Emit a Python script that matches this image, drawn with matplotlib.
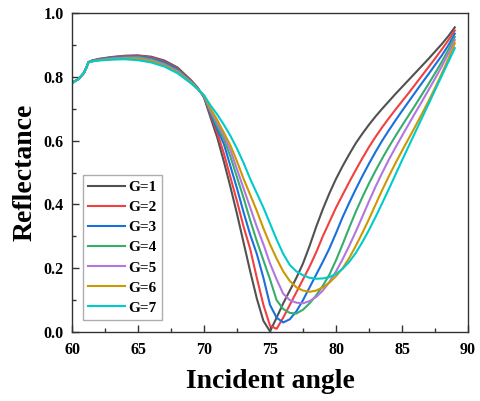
import matplotlib
matplotlib.use("Agg")
import matplotlib.pyplot as plt
from matplotlib.ticker import MultipleLocator, FormatStrFormatter

angle = [60, 60.5, 60.9, 61.1, 61.25, 61.5, 62, 63, 64, 65, 66, 67, 68, 69, 69.5,
         70, 70.5, 71, 71.5, 72, 72.5, 73, 73.5, 74, 74.5, 75, 75.5, 76, 76.5, 77, 77.5,
         78, 78.5, 79, 79.5, 80, 80.5, 81, 81.5, 82, 82.5, 83, 83.5, 84, 84.5, 85, 85.5,
         86, 86.5, 87, 87.5, 88, 88.5, 89]

left_common = [0.781, 0.793, 0.812, 0.830, 0.846]

g1 = left_common + [0.851, 0.856, 0.862, 0.866, 0.867, 0.863, 0.851, 0.829, 0.790, 0.767,
      0.735, 0.672, 0.610, 0.535, 0.455, 0.370, 0.280, 0.190, 0.105, 0.035, 0.002, 0.045, 0.090, 0.130, 0.170, 0.215,
      0.270, 0.330, 0.385, 0.435, 0.480, 0.520, 0.557, 0.592, 0.622, 0.650, 0.676, 0.700, 0.723, 0.746, 0.768, 0.790,
      0.812, 0.834, 0.856, 0.879, 0.902, 0.927, 0.955]
g2 = left_common + [0.850, 0.855, 0.861, 0.865, 0.866, 0.861, 0.848, 0.826, 0.788, 0.766,
      0.738, 0.680, 0.625, 0.560, 0.485, 0.410, 0.330, 0.260, 0.170, 0.085, 0.020, 0.010, 0.045, 0.085, 0.125, 0.165,
      0.205, 0.250, 0.300, 0.345, 0.390, 0.430, 0.470, 0.508, 0.545, 0.580, 0.612, 0.642, 0.670, 0.697, 0.723, 0.749,
      0.776, 0.803, 0.830, 0.857, 0.885, 0.914, 0.945]
g3 = left_common + [0.850, 0.854, 0.860, 0.863, 0.864, 0.858, 0.845, 0.823, 0.786, 0.765,
      0.738, 0.685, 0.635, 0.590, 0.520, 0.450, 0.375, 0.305, 0.245, 0.170, 0.085, 0.045, 0.030, 0.040, 0.065, 0.100,
      0.140, 0.180, 0.220, 0.262, 0.310, 0.360, 0.405, 0.448, 0.489, 0.528, 0.565, 0.600, 0.632, 0.663, 0.693, 0.722,
      0.751, 0.780, 0.808, 0.837, 0.866, 0.898, 0.935]
g4 = left_common + [0.849, 0.853, 0.858, 0.861, 0.862, 0.855, 0.841, 0.820, 0.785, 0.764,
      0.739, 0.690, 0.645, 0.605, 0.550, 0.485, 0.420, 0.350, 0.285, 0.225, 0.165, 0.100, 0.072, 0.060, 0.058, 0.070,
      0.090, 0.115, 0.145, 0.180, 0.225, 0.275, 0.327, 0.377, 0.423, 0.466, 0.506, 0.544, 0.580, 0.614, 0.647, 0.679,
      0.711, 0.744, 0.777, 0.811, 0.846, 0.884, 0.925]
g5 = left_common + [0.849, 0.852, 0.857, 0.859, 0.859, 0.852, 0.838, 0.817, 0.783, 0.763,
      0.740, 0.695, 0.655, 0.615, 0.570, 0.510, 0.450, 0.390, 0.330, 0.275, 0.215, 0.165, 0.120, 0.100, 0.092, 0.090,
      0.097, 0.110, 0.130, 0.157, 0.190, 0.228, 0.270, 0.315, 0.362, 0.410, 0.456, 0.499, 0.540, 0.578, 0.615, 0.651,
      0.687, 0.722, 0.758, 0.794, 0.832, 0.872, 0.915]
g6 = left_common + [0.848, 0.852, 0.855, 0.857, 0.856, 0.849, 0.835, 0.814, 0.782, 0.763,
      0.741, 0.700, 0.665, 0.625, 0.585, 0.535, 0.480, 0.430, 0.380, 0.325, 0.275, 0.230, 0.190, 0.160, 0.140, 0.130,
      0.126, 0.130, 0.140, 0.155, 0.175, 0.200, 0.232, 0.270, 0.311, 0.354, 0.400, 0.445, 0.488, 0.529, 0.568, 0.606,
      0.644, 0.683, 0.723, 0.765, 0.809, 0.855, 0.905]
g7 = left_common + [0.848, 0.851, 0.854, 0.855, 0.852, 0.845, 0.832, 0.811, 0.780, 0.762,
      0.742, 0.710, 0.682, 0.650, 0.615, 0.575, 0.530, 0.480, 0.435, 0.390, 0.340, 0.290, 0.245, 0.210, 0.190, 0.178,
      0.170, 0.167, 0.168, 0.172, 0.182, 0.198, 0.220, 0.248, 0.282, 0.320, 0.361, 0.404, 0.448, 0.493, 0.538, 0.582,
      0.626, 0.670, 0.714, 0.758, 0.802, 0.846, 0.890]

labels = ["G=1", "G=2", "G=3", "G=4", "G=5", "G=6", "G=7"]
colors = ["#515151", "#F14040", "#1A6FDF", "#37AD6B", "#B177DE", "#CC9900", "#00CBCC"]
series = [g1, g2, g3, g4, g5, g6, g7]

plt.rcParams['font.family'] = ['Liberation Serif', 'DejaVu Serif']
plt.rcParams['font.weight'] = 'bold'

fig = plt.figure(figsize=(4.81, 4.01), dpi=100)
ax = fig.add_axes([0.1497, 0.172, 0.8233, 0.7956])

for ys, lab, c in zip(series, labels, colors):
    ax.plot(angle, ys, color=c, lw=1.5, label=lab)

ax.set_xlim(60, 90)
ax.set_ylim(0, 1.0)
ax.xaxis.set_major_locator(MultipleLocator(5))
ax.xaxis.set_minor_locator(MultipleLocator(2.5))
ax.yaxis.set_major_locator(MultipleLocator(0.2))
ax.yaxis.set_minor_locator(MultipleLocator(0.1))
ax.yaxis.set_major_formatter(FormatStrFormatter('%.1f'))
ax.tick_params(which='both', direction='in', top=False, right=False, width=1, color='#333333')
ax.tick_params(which='major', length=5, labelsize=11.5)
ax.tick_params(axis='x', which='major', pad=7)
ax.tick_params(axis='y', which='major', pad=6)
ax.tick_params(which='minor', length=3)
for lbl in ax.get_xticklabels() + ax.get_yticklabels():
    lbl.set_fontweight('bold')
for s in ax.spines.values():
    s.set_color('#333333')
    s.set_linewidth(1.0)

ax.set_xlabel("Incident angle", fontsize=20, fontweight='bold', labelpad=8)
ax.set_ylabel("Reflectance", fontsize=20, fontweight='bold', labelpad=4)

leg = ax.legend(loc='upper left', bbox_to_anchor=(0.028, 0.492), borderaxespad=0,
                fontsize=11, frameon=True, fancybox=False, edgecolor='#999999',
                handlelength=2.4, labelspacing=0.42, handletextpad=0.2, borderpad=0.35)
leg.get_frame().set_linewidth(1.0)
for t in leg.get_texts():
    t.set_fontweight('bold')

fig.savefig("out.png", dpi=100)
